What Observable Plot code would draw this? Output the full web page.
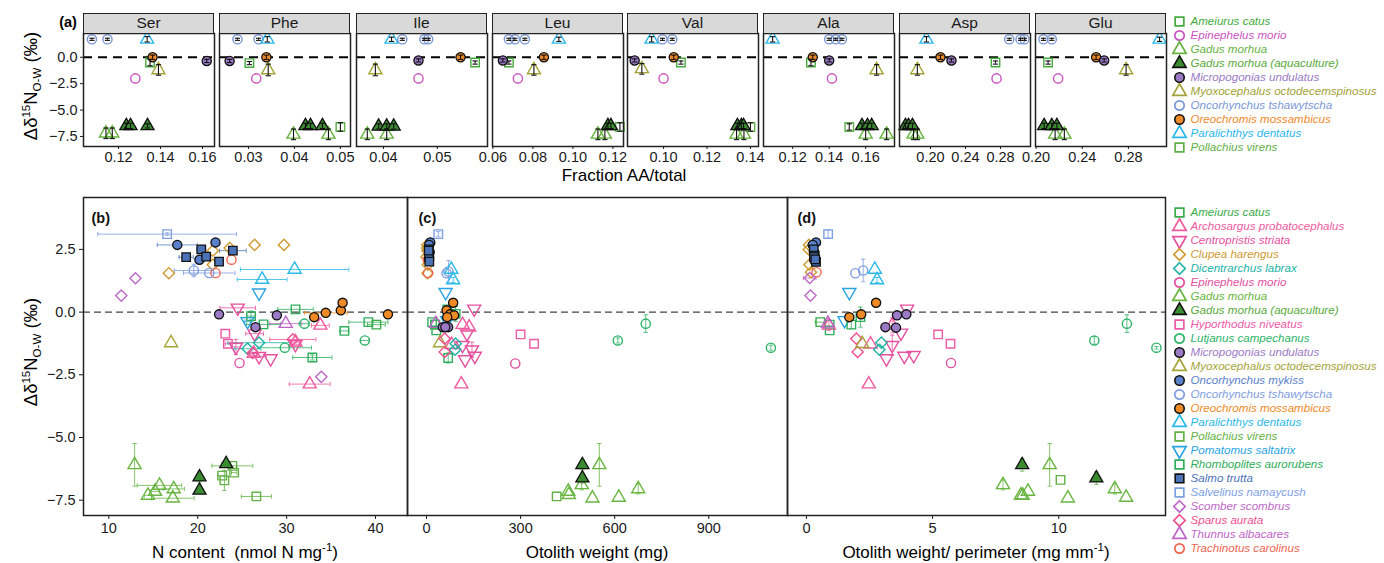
<!DOCTYPE html>
<html><head><meta charset="utf-8">
<script src="https://cdn.jsdelivr.net/npm/d3@7"></script>
<script src="https://cdn.jsdelivr.net/npm/@observablehq/plot@0.6"></script>
<style>
body{margin:0;background:#fff;font-family:"Liberation Sans",Arial,Helvetica,sans-serif;color:#1a1a1a;}
#root{position:relative;width:1384px;height:563px;overflow:hidden;background:#fff;}
.strip{position:absolute;background:#d9d9d9;border:1.5px solid #222;box-sizing:border-box;text-align:center;font-size:15.5px;line-height:18px;color:#1a1a1a;}
.t{position:absolute;white-space:nowrap;transform:translate(-50%,-50%);font-size:17px;color:#000;}
.r{position:absolute;white-space:nowrap;transform:translate(-50%,-50%) rotate(-90deg);font-size:18.5px;color:#000;}
.sup{font-size:11.5px;position:relative;top:-7px;}
.sub{font-size:11.5px;position:relative;top:4px;}
</style></head>
<body><div id="root"></div>
<script>
// ---------------- DATA ----------------
const aminoAcids = ["Ser","Phe","Ile","Leu","Val","Ala","Asp","Glu"];
const xDomainsA = [[0.1033,0.1657],[0.0237,0.0522],[0.035,0.0593],[0.0598,0.1253],[0.0834,0.1437],[0.104,0.1758],[0.1646,0.3143],[0.1995,0.313]];
const xTicksA = [[0.12,0.14,0.16],[0.03,0.04,0.05],[0.04,0.05],[0.06,0.08,0.10,0.12],[0.10,0.12,0.14],[0.12,0.14,0.16],[0.20,0.24,0.28],[0.20,0.24,0.28]];
const yTicksA = [0,-2.5,-5,-7.5];

const codesA = ["Ac","Em","Gm","Ga","Mu","Mo","Ot","Om","Pd","Pv"];
const namesA = ["Ameiurus catus","Epinephelus morio","Gadus morhua","Gadus morhua (aquaculture)","Micropogonias undulatus","Myoxocephalus octodecemspinosus","Oncorhynchus tshawytscha","Oreochromis mossambicus","Paralichthys dentatus","Pollachius virens"];
const colorsA = ["#45ab3c","#cc52c2","#66b33f","#58a83a","#9a79c4","#a3a236","#7997d6","#ef8a2a","#2bb7ea","#5fb048"];
const shapesA = ["square","circle","triangle","triangle","circle","triangle","circle","circle","triangle","square"];
const filledA = ["Ga","Mu","Om"];

const codesB = ["Ac","Ap","Cs","Ch","Dl","Em","Gm","Ga","Hn","Lc","Mu","Mo","Omk","Ot","Om","Pd","Pv","Ps","Ra","St","Sn","Ss","Sa","Ta","Tc"];
const namesB = ["Ameiurus catus","Archosargus probatocephalus","Centropristis striata","Clupea harengus","Dicentrarchus labrax","Epinephelus morio","Gadus morhua","Gadus morhua (aquaculture)","Hyporthodus niveatus","Lutjanus campechanus","Micropogonias undulatus","Myoxocephalus octodecemspinosus","Oncorhynchus mykiss","Oncorhynchus tshawytscha","Oreochromis mossambicus","Paralichthys dentatus","Pollachius virens","Pomatomus saltatrix","Rhomboplites aurorubens","Salmo trutta","Salvelinus namaycush","Scomber scombrus","Sparus aurata","Thunnus albacares","Trachinotus carolinus"];
const colorsB = ["#3aac4a","#ee5a9e","#e6509f","#cf9a30","#21b4a6","#e2509f","#68b540","#5aaa3c","#ed5aa6","#2db468","#9c7bc6","#a5a53a","#5a80cc","#7f9de0","#ef8a25","#2ab9e8","#63b144","#2aa3e2","#2fae5c","#4c73b7","#7e9fe2","#bd68c7","#f0508e","#c063c8","#ef6552"];
const shapesB = ["square","triangle","triangleDown","diamond","diamond","circle","triangle","triangle","square","circle","circle","triangle","circle","circle","circle","triangle","square","triangleDown","square","square","square","diamond","diamond","triangle","circle"];
const filledB = ["Ga","Mu","Omk","Om","St"];
const aquacultureFill = "#3b8c30";

// panel (a): [amino acid, species, fraction AA/total, delta, error]
const pointsA = [
["Ser","Ot",0.1073,1.7,0.1],["Ser","Ot",0.1147,1.7,0.1],["Ser","Pd",0.1336,1.7,0.25],["Ser","Om",0.1362,0,0.2],["Ser","Ac",0.135,-0.5,0.3],["Ser","Mo",0.139,-1.2,0.5],["Ser","Em",0.128,-2.0,0],["Ser","Mu",0.162,-0.35,0.15],["Ser","Ga",0.1237,-6.5,0.25],["Ser","Ga",0.1257,-6.5,0.25],["Ser","Ga",0.1338,-6.5,0.2],["Ser","Gm",0.114,-7.2,0.5],["Ser","Gm",0.117,-7.2,0.5],
["Phe","Ot",0.0276,1.7,0.1],["Phe","Ot",0.0322,1.7,0.1],["Phe","Pd",0.0341,1.7,0.25],["Phe","Om",0.0339,0,0.2],["Phe","Mu",0.0259,-0.35,0.15],["Phe","Ac",0.0302,-0.55,0.15],["Phe","Em",0.0317,-2.0,0],["Phe","Mo",0.0343,-1.2,0.55],["Phe","Gm",0.0398,-7.3,0.5],["Phe","Gm",0.0474,-7.3,0.5],["Phe","Ga",0.0424,-6.5,0.25],["Phe","Ga",0.0435,-6.5,0.25],["Phe","Ga",0.0461,-6.5,0.25],["Phe","Pv",0.050,-6.6,0.4],
["Ile","Pd",0.0415,1.7,0.2],["Ile","Ot",0.0435,1.7,0.1],["Ile","Ot",0.0476,1.7,0.1],["Ile","Ot",0.0483,1.7,0.1],["Ile","Mo",0.0385,-1.2,0.55],["Ile","Mu",0.0465,-0.3,0.15],["Ile","Em",0.0465,-2.0,0],["Ile","Om",0.0543,0,0.2],["Ile","Ac",0.057,-0.5,0.15],["Ile","Gm",0.037,-7.3,0.5],["Ile","Gm",0.0406,-7.3,0.5],["Ile","Ga",0.0391,-6.55,0.25],["Ile","Ga",0.0406,-6.55,0.25],["Ile","Ga",0.0419,-6.55,0.25],
["Leu","Ot",0.068,1.7,0.1],["Leu","Ot",0.071,1.7,0.1],["Leu","Ot",0.076,1.7,0.1],["Leu","Pd",0.093,1.7,0.2],["Leu","Mu",0.065,-0.3,0.15],["Leu","Ac",0.068,-0.5,0.15],["Leu","Om",0.0855,0,0.2],["Leu","Mo",0.0805,-1.2,0.5],["Leu","Em",0.0725,-2.0,0],["Leu","Gm",0.1125,-7.3,0.5],["Leu","Gm",0.116,-7.3,0.5],["Leu","Ga",0.1175,-6.5,0.25],["Leu","Ga",0.119,-6.5,0.25],["Leu","Pv",0.1235,-6.6,0.4],
["Val","Pd",0.0945,1.7,0.25],["Val","Ot",0.0995,1.7,0.1],["Val","Ot",0.104,1.7,0.1],["Val","Mu",0.0867,-0.3,0.15],["Val","Mo",0.090,-1.1,0.5],["Val","Om",0.1047,0,0.2],["Val","Ac",0.108,-0.5,0.15],["Val","Em",0.100,-2.0,0],["Val","Gm",0.1336,-7.3,0.5],["Val","Gm",0.137,-7.3,0.5],["Val","Ga",0.134,-6.5,0.25],["Val","Ga",0.1358,-6.5,0.25],["Val","Ga",0.1368,-6.5,0.25],["Val","Pv",0.140,-6.6,0.4],
["Ala","Pd",0.109,1.7,0.25],["Ala","Ot",0.140,1.7,0.1],["Ala","Ot",0.1436,1.7,0.1],["Ala","Ot",0.147,1.7,0.1],["Ala","Om",0.131,0,0.2],["Ala","Ac",0.130,-0.5,0.3],["Ala","Mu",0.140,-0.3,0.15],["Ala","Em",0.1415,-2.0,0],["Ala","Mo",0.166,-1.2,0.5],["Ala","Pv",0.151,-6.6,0.3],["Ala","Ga",0.158,-6.5,0.25],["Ala","Ga",0.161,-6.5,0.25],["Ala","Ga",0.1633,-6.5,0.25],["Ala","Gm",0.160,-7.3,0.5],["Ala","Gm",0.1715,-7.3,0.5],
["Asp","Pd",0.1954,1.7,0.25],["Asp","Ot",0.290,1.7,0.1],["Asp","Ot",0.3029,1.7,0.1],["Asp","Ot",0.3074,1.7,0.1],["Asp","Om",0.2114,0,0.2],["Asp","Mu",0.224,-0.3,0.15],["Asp","Mo",0.185,-1.2,0.5],["Asp","Ac",0.2743,-0.5,0.15],["Asp","Em",0.2755,-2.0,0],["Asp","Ga",0.1714,-6.5,0.25],["Asp","Ga",0.1749,-6.5,0.25],["Asp","Ga",0.1794,-6.5,0.25],["Asp","Gm",0.1806,-7.3,0.5],["Asp","Gm",0.185,-7.3,0.5],
["Glu","Ot",0.2064,1.7,0.1],["Glu","Ot",0.2136,1.7,0.1],["Glu","Pd",0.307,1.7,0.2],["Glu","Ac",0.2104,-0.5,0.15],["Glu","Em",0.2191,-2.0,0],["Glu","Om",0.252,0,0.2],["Glu","Mu",0.259,-0.3,0.15],["Glu","Mo",0.278,-1.2,0.5],["Glu","Ga",0.207,-6.5,0.25],["Glu","Ga",0.2136,-6.5,0.25],["Glu","Ga",0.218,-6.5,0.25],["Glu","Gm",0.2165,-7.3,0.5],["Glu","Gm",0.2245,-7.3,0.5]
];

const yTicksB = [2.5,0,-2.5,-5,-7.5];
const xTicksB = [10,20,30,40], xTicksC = [0,300,600,900], xTicksD = [0,5,10];

// panels (b)-(d): [species, x, delta, x error, delta error]
const pointsB = [
["Sn",16.56,3.11,7.8,0.05],
["Omk",17.7,2.68,2.25,0],["Omk",22.0,2.78,0.3,0],["Omk",20.2,2.09,0.5,0],
["St",18.7,2.19,0.8,0],["St",20.4,2.50,0.5,0],["St",20.95,2.21,0.5,0],["St",22.4,2.01,0.4,0],["St",23.95,2.45,1.5,0],
["Ch",21.7,2.45,0,0],["Ch",23.6,2.56,0,0],["Ch",26.4,2.68,0,0],["Ch",29.7,2.68,0,0],["Ch",16.75,1.55,0,0],["Ch",21.7,1.89,0,0],
["Tc",23.8,2.09,0,0],["Tc",22.0,1.56,0,0],
["Ot",19.56,1.66,2.2,0.25],["Ot",21.3,1.56,2.9,0],
["Pd",30.9,1.70,6.1,0],["Pd",27.25,1.30,2.8,0],
["Ps",26.9,0.77,0,0],["Ps",25.6,-0.37,0.3,0],
["Ss",11.4,0.66,0,0],["Ss",13.0,1.35,0,0],["Ss",33.9,-2.58,0,0],
["Mo",17.0,-1.23,0,0],
["Mu",22.4,-0.09,0,0],["Mu",28.9,-0.13,0,0],["Mu",26.5,-0.60,0,0],
["Om",33.1,-0.20,0.4,0],["Om",34.4,-0.03,2.4,0],["Om",36.1,0.07,0.5,0],["Om",36.3,0.37,0.3,0],["Om",41.4,-0.09,0,0],
["Cs",24.5,0.17,2.0,0],["Cs",26.4,-0.86,1.0,0],["Cs",24.3,-1.39,0.5,0.3],["Cs",26.9,-1.76,0.8,0],["Cs",28.2,-1.85,0,0],["Cs",31.0,-1.28,0.5,0],
["Hn",23.1,-0.86,0,0],["Hn",23.4,-1.26,0.3,0],
["Em",24.7,-2.03,0,0],
["Dl",26.9,-1.22,3.5,0],["Dl",25.6,-1.46,1.5,0],
["Sa",30.7,-1.09,2.6,0],["Sa",26.2,-1.63,0.5,0],
["Ap",33.8,-0.53,1.0,0],["Ap",32.6,-2.87,2.3,0],["Ap",31.0,-1.2,0.5,0],["Ap",26.3,-1.65,0.4,0],
["Ta",29.9,-0.46,1.8,0],
["Ra",26.0,-0.16,0.5,0.2],["Ra",27.4,-0.49,1.9,0],["Ra",31.0,0.11,2.0,0],["Ra",36.5,-0.75,0.5,0],["Ra",32.9,-1.81,2.2,0.1],["Ra",39.2,-0.40,2.2,0],
["Ac",40.1,-0.50,1.0,0],
["Lc",32.0,-0.46,0.6,0],["Lc",29.8,-1.42,3.0,0],["Lc",38.8,-1.13,0.5,0],
["Gm",12.9,-6.09,0,0.85],["Gm",15.7,-6.91,2.5,0],["Gm",15.2,-7.15,0.5,0],["Gm",17.3,-7.05,1.2,0],["Gm",14.4,-7.31,0.4,0],["Gm",17.2,-7.42,2.4,0],
["Ga",23.2,-6.05,0.5,0],["Ga",20.2,-6.58,0,0.2],["Ga",20.2,-7.11,0,0],
["Pv",23.9,-6.13,2.3,0],["Pv",24.1,-6.40,0.3,0],["Pv",22.75,-6.52,0.5,0],["Pv",23.0,-6.71,0,0.4],["Pv",26.6,-7.35,1.7,0]
];
const pointsC = [
["Sn",37.5,3.11,0,0.1],
["Omk",12,2.78,0,0],["Omk",8,2.68,0,0],["Omk",10,2.4,0,0],
["St",8,2.5,0,0],["St",9,2.25,0,0],["St",8,2.19,0,0],["St",9,2.01,0,0],["St",7,2.45,0,0],
["Ch",3,2.45,0,0],["Ch",2,2.56,0,0],["Ch",2,2.68,0,0],["Ch",0,2.2,0,0],["Ch",4,1.89,0,0],["Ch",3,1.55,0,0],
["Tc",4,2.09,0,0],["Tc",5,1.56,0,0],
["Ot",64,1.55,0,0],["Ot",70,1.62,0,0.43],
["Pd",79,1.70,0,0],["Pd",85,1.28,0,0.1],
["Ps",61,0.79,0,0],["Ps",66,-0.33,0,0],
["Om",85,0.37,0,0],["Om",64,0.07,0,0],["Om",75,-0.09,0,0],["Om",88,-0.13,0,0],["Om",66,-0.2,0,0],
["Ra",66,0.11,0,0],["Ra",93,-0.07,0,0.3],["Ra",18,-0.40,0,0],["Ra",31,-0.73,0,0],["Ra",27,-0.50,0,0],["Ra",69,-1.83,0,0.2],
["Ac",28,-0.5,0,0],
["Mu",52,-0.6,0,0],["Mu",69,-0.6,0,0],["Mu",60,-0.6,0,0],
["Cs",152,0.13,0,0],["Cs",129,-0.86,0,0],["Cs",115,-1.32,0,0],["Cs",145,-1.5,0,0.3],["Cs",123,-1.89,0,0],["Cs",154,-1.75,0,0],
["Ap",115,-0.5,0,0],["Ap",136,-0.6,0,0],["Ap",111,-2.87,0,0],["Ap",80,-1.3,0,0],
["Ta",30,-0.46,0,0],
["Hn",300,-0.89,0,0],["Hn",343,-1.26,0,0],
["Em",283,-2.05,0,0],
["Mo",43,-1.23,0,0],
["Dl",93,-1.26,0,0],["Dl",91,-1.5,0,0],
["Sa",58,-1.06,0,0],["Sa",58,-1.59,0,0],
["Lc",699,-0.46,0,0.35],["Lc",610,-1.13,0,0.1],["Lc",1098,-1.42,0,0.1],
["Gm",551,-6.09,0,0.85],["Gm",495,-6.89,0,0.2],["Gm",452,-7.15,0,0],["Gm",454,-7.28,0,0],["Gm",529,-7.42,0,0],["Gm",613,-7.39,0,0],["Gm",675,-7.05,0,0.2],
["Ga",497,-6.09,0,0.2],["Ga",497,-6.62,0,0.2],
["Pv",415,-7.35,0,0]
];
const pointsD = [
["Sn",0.86,3.11,0,0.15],
["Omk",0.38,2.78,0,0],["Omk",0.25,2.68,0,0],["Omk",0.3,2.4,0,0],
["St",0.29,2.5,0,0],["St",0.33,2.25,0,0],["St",0.38,2.0,0,0],["St",0.3,2.19,0,0],["St",0.35,2.1,0,0],
["Ch",0.09,2.5,0,0],["Ch",0.12,1.89,0,0],["Ch",0.18,1.59,0,0],["Ch",0.1,2.68,0,0],
["Tc",0.40,1.59,0,0],["Tc",0.3,2.09,0,0],
["Ss",0.13,1.36,0.25,0],["Ss",0.16,0.66,0,0],
["Ot",1.94,1.55,0,0],["Ot",2.25,1.66,0,0.45],
["Pd",2.71,1.70,0,0],["Pd",2.80,1.28,0,0.1],
["Ps",1.70,0.79,0,0],["Ps",1.51,-0.33,0,0],
["Om",2.76,0.37,0,0.1],["Om",1.70,-0.2,0,0],["Om",2.17,-0.09,0,0],
["Ra",2.14,-0.2,0,0.4],["Ra",1.78,-0.5,0,0.15],["Ra",0.92,-0.5,0,0],["Ra",0.92,-0.73,0,0],
["Ac",0.55,-0.40,0.2,0],
["Ap",0.89,-0.53,0,0.2],["Ap",2.54,-1.28,0,0],["Ap",2.47,-2.87,0,0],["Ap",3.4,-0.53,0,0.3],
["Ta",0.85,-0.45,0,0],
["Mu",3.13,-0.6,0,0],["Mu",3.59,-0.13,0,0],["Mu",3.96,-0.09,0,0],["Mu",3.55,-0.62,0,0],
["Cs",3.99,0.13,0,0],["Cs",3.75,-0.83,0,0],["Cs",3.40,-1.32,0,0.4],["Cs",3.17,-1.85,0,0],["Cs",3.88,-1.75,0,0],["Cs",4.25,-1.72,0,0],
["Sa",1.98,-1.06,0,0],["Sa",2.03,-1.59,0,0],
["Mo",2.21,-1.26,0,0],
["Dl",2.97,-1.22,0,0],["Dl",2.89,-1.5,0,0],
["Hn",5.22,-0.89,0,0],["Hn",5.71,-1.26,0,0],
["Em",5.73,-2.03,0,0],
["Lc",12.7,-0.46,0,0.35],["Lc",11.41,-1.13,0,0.15],["Lc",13.87,-1.42,0,0.05],
["Gm",9.64,-6.09,0,0.85],["Gm",7.79,-6.89,0,0.2],["Gm",8.57,-7.31,0,0],["Gm",8.78,-7.15,0,0],["Gm",10.36,-7.42,0,0],["Gm",12.22,-7.05,0,0.2],["Gm",12.67,-7.39,0,0],["Gm",8.5,-7.3,0,0],
["Ga",8.55,-6.09,0,0.25],["Ga",11.49,-6.62,0,0.25],
["Pv",10.07,-6.69,0,0]
];

// ---------------- RENDER ----------------
const root = document.getElementById("root");
const SQ3 = Math.sqrt(3);
const sym = {
  circle: "circle",
  square: {draw(c,s){const r=Math.sqrt(s/Math.PI)*0.92;c.moveTo(-r,-r);c.lineTo(r,-r);c.lineTo(r,r);c.lineTo(-r,r);c.closePath();}},
  triangle: {draw(c,s){const r=Math.sqrt(s/Math.PI);const h=1.42*r,H=h*SQ3;c.moveTo(0,-2*H/3);c.lineTo(h,H/3);c.lineTo(-h,H/3);c.closePath();}},
  triangleDown: {draw(c,s){const r=Math.sqrt(s/Math.PI);const h=1.42*r,H=h*SQ3;c.moveTo(0,2*H/3);c.lineTo(h,-H/3);c.lineTo(-h,-H/3);c.closePath();}},
  diamond: {draw(c,s){const r=Math.sqrt(s/Math.PI)*1.22;c.moveTo(0,-r);c.lineTo(r,0);c.lineTo(0,r);c.lineTo(-r,0);c.closePath();}}
};
const capH = {draw(c,s){const r=Math.sqrt(s/Math.PI);c.moveTo(-r,0);c.lineTo(r,0);}};
const capV = {draw(c,s){const r=Math.sqrt(s/Math.PI);c.moveTo(0,-r);c.lineTo(0,r);}};

const baseStyle = {background:"transparent", overflow:"visible", fontFamily:"'Liberation Sans', Arial, Helvetica, sans-serif", fontSize:"14.5px", color:"#1a1a1a"};

function put(node, left, top, w) {
  const d = document.createElement("div");
  d.style.position = "absolute"; d.style.left = left + "px"; d.style.top = top + "px";
  if (w) d.style.width = w + "px";
  d.appendChild(node); root.appendChild(d); return d;
}
function html(cls, h, css) {
  const d = document.createElement("div"); d.className = cls; d.innerHTML = h;
  Object.assign(d.style, css); root.appendChild(d); return d;
}
function scales(codes, colors, shapes) {
  return {
    color: {type:"ordinal", domain:[...codes, "GaFill"], range:[...colors, aquacultureFill]},
    symbol: {type:"ordinal", domain:codes, range:shapes.map(s => sym[s])}
  };
}
function pointMarks(data, filledSet, errColor, errW, errOnTop, capR) {
  const open = data.filter(d => !filledSet.has(d.sp));
  const fill = data.filter(d => filledSet.has(d.sp));
  const ey = data.filter(d => d.ye > 0), ex = data.filter(d => d.xe > 0);
  const ec = errColor;
  const err = [
    Plot.ruleX(ey, {x:"x", y1:d=>d.y-d.ye, y2:d=>d.y+d.ye, stroke:ec, strokeWidth:errW}),
    Plot.dot(ey, {x:"x", y:d=>d.y-d.ye, symbol:capH, r:capR, stroke:ec, fill:"none", strokeWidth:errW}),
    Plot.dot(ey, {x:"x", y:d=>d.y+d.ye, symbol:capH, r:capR, stroke:ec, fill:"none", strokeWidth:errW}),
    Plot.ruleY(ex, {y:"y", x1:d=>d.x-d.xe, x2:d=>d.x+d.xe, stroke:ec, strokeWidth:errW}),
    Plot.dot(ex, {x:d=>d.x-d.xe, y:"y", symbol:capV, r:capR, stroke:ec, fill:"none", strokeWidth:errW}),
    Plot.dot(ex, {x:d=>d.x+d.xe, y:"y", symbol:capV, r:capR, stroke:ec, fill:"none", strokeWidth:errW})
  ];
  const pts = [
    Plot.dot(open, {x:"x", y:"y", symbol:"sp", stroke:"sp", fill:"none", r:4.6, strokeWidth:1.4}),
    Plot.dot(fill, {x:"x", y:"y", symbol:"sp", fill:d => d.sp === "Ga" ? "GaFill" : d.sp, stroke:"#111", r:4.6, strokeWidth:1.3})
  ];
  return errOnTop ? [...pts, ...err] : [...err, ...pts];
}

// ---- panel (a) ----
const facetLeft = [83, 219, 356, 492, 627, 763, 899, 1035];
const facetW = 131;
const scA = scales(codesA, colorsA, shapesA);
const filledSetA = new Set(filledA);
aminoAcids.forEach((aa, i) => {
  const data = pointsA.filter(p => p[0] === aa).map(p => ({sp:p[1], x:p[2], y:p[3], ye:p[4], xe:0}));
  const mL = i === 0 ? 50 : 10, mR = 10, mT = 5, mB = 25;
  const svg = Plot.plot({
    width: mL + facetW + mR, height: mT + 113 + mB,
    marginLeft: mL, marginRight: mR, marginTop: mT, marginBottom: mB,
    style: baseStyle,
    x: {domain: xDomainsA[i], ticks: xTicksA[i], tickFormat: ".2f", tickSize: 3, tickPadding: 2, label: null},
    y: {domain: [-8.45, 2.25], ticks: yTicksA, tickFormat: ".1f", tickSize: 3, tickPadding: 3, label: null, axis: i === 0 ? "left" : null},
    ...scA,
    marks: [
      Plot.ruleY([0], {stroke:"#000", strokeWidth:2.2, strokeDasharray:"9,6"}),
      ...pointMarks(data, filledSetA, "#111", 1.1, true, 2.6),
      Plot.frame({stroke:"#222", strokeWidth:1.5})
    ]
  });
  put(svg, facetLeft[i] - mL, 28, mL + facetW + mR);
  html("strip", aa, {left: facetLeft[i] + "px", top: "13px", width: facetW + "px", height: "21px"});
});
html("t", "<b>(a)</b>", {left: "68px", top: "22px", fontSize: "14.5px"});
html("t", "Fraction AA/total", {left: "624px", top: "176px"});
html("r", "&Delta;&delta;<span class='sup'>15</span>N<span class='sub'>O-W</span> (&permil;)", {left: "31px", top: "86px"});

// ---- panels (b)-(d) ----
const scB = scales(codesB, colorsB, shapesB);
const filledSetB = new Set(filledB);
const toObj = arr => arr.map(p => ({sp:p[0], x:p[1], y:p[2], xe:p[3], ye:p[4]}));
const panels = [
  {data: pointsB, left: 83, w: 324, domain: [7.15, 43.6], ticks: xTicksB, label: "(b)", dx: 8, mL: 50, title: "N content &nbsp;(nmol N mg<span class='sup'>-1</span>)"},
  {data: pointsC, left: 407, w: 380, domain: [-60.6, 1151], ticks: xTicksC, label: "(c)", dx: 11, mL: 0, title: "Otolith weight (mg)"},
  {data: pointsD, left: 787, w: 378, domain: [-0.75, 14.23], ticks: xTicksD, label: "(d)", dx: 10, mL: 0, title: "Otolith weight/ perimeter (mg mm<span class='sup'>-1</span>)"}
];
panels.forEach((p, i) => {
  const mR = 0, mT = 5, mB = 30;
  const svg = Plot.plot({
    width: p.mL + p.w + mR, height: mT + 318 + mB,
    marginLeft: p.mL, marginRight: mR, marginTop: mT, marginBottom: mB,
    style: baseStyle,
    x: {domain: p.domain, ticks: p.ticks, tickFormat: d3.format("d"), tickSize: 4, tickPadding: 3, label: null},
    y: {domain: [-8.11, 4.57], ticks: yTicksB, tickFormat: ".1f", tickSize: 4, tickPadding: 4, label: null, axis: i === 0 ? "left" : null},
    ...scB,
    marks: [
      Plot.ruleY([0], {stroke:"#444", strokeWidth:1.3, strokeDasharray:"7,4"}),
      ...pointMarks(toObj(p.data), filledSetB, "sp", 0.8, false, 2.2),
      Plot.frame({stroke:"#222", strokeWidth:1.5}),
      Plot.text([p.label], {text: d => d, frameAnchor: "top-left", dx: p.dx, dy: 15, fontWeight: "bold", fontSize: 14.5, textAnchor: "start", fill: "#111"})
    ]
  });
  put(svg, p.left - p.mL, 192, p.mL + p.w + mR);
  html("t", p.title, {left: (p.left + p.w / 2) + "px", top: "553px"});
});
html("r", "&Delta;&delta;<span class='sup'>15</span>N<span class='sub'>O-W</span> (&permil;)", {left: "31px", top: "352px"});

// ---- legends ----
function legend(codes, names, colors, shapes, filledSet, firstRowY) {
  const rows = codes.map((c, i) => ({sp: c, name: names[i]}));
  const step = 14.8, mT = 10, mB = 10;
  const h = (codes.length - 1) * step + mT + mB;
  const sc = scales(codes, colors, shapes);
  const svg = Plot.plot({
    width: 224, height: h, marginTop: mT, marginBottom: mB, marginLeft: 0, marginRight: 0,
    style: baseStyle,
    x: {domain: [0, 224], axis: null},
    y: {type: "point", domain: codes, padding: 0, axis: null},
    ...sc,
    marks: [
      Plot.dot(rows.filter(r => !filledSet.has(r.sp)), {x: () => 19, y: "sp", symbol: "sp", stroke: "sp", fill: "none", r: 4.7, strokeWidth: 1.7}),
      Plot.dot(rows.filter(r => filledSet.has(r.sp)), {x: () => 19, y: "sp", symbol: "sp", fill: d => d.sp === "Ga" ? "GaFill" : d.sp, stroke: "#111", r: 4.7, strokeWidth: 1.6}),
      Plot.text(rows, {x: () => 30, y: "sp", text: "name", fill: "sp", textAnchor: "start", fontStyle: "italic", fontSize: 11.6})
    ]
  });
  put(svg, 1160, firstRowY - mT, 224);
}
legend(codesA, namesA, colorsA, shapesA, filledSetA, 17.3);
legend(codesB, namesB, colorsB, shapesB, filledSetB, 201.7);
</script>
</body></html>
